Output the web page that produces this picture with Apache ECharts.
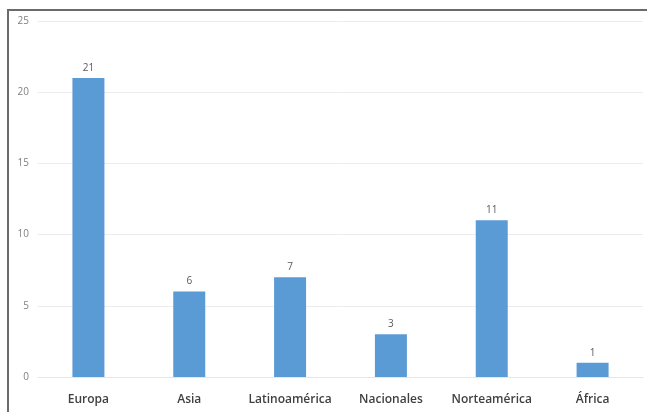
<!DOCTYPE html>
<html><head><meta charset="utf-8">
<script src="https://cdn.jsdelivr.net/npm/echarts@6/dist/echarts.min.js"></script>
<style>
html,body{margin:0;padding:0;background:#fff;width:647px;height:412px;overflow:hidden;}
#frame{position:absolute;left:7px;top:9px;width:700px;height:500px;border:2px solid #6b6b6b;box-sizing:border-box;}
#c{position:absolute;left:0;top:0;width:647px;height:412px;}
</style></head>
<body>
<div id="frame"></div>
<div id="c"></div>
<script>
const categories = ['Europa','Asia','Latinoamérica','Nacionales','Norteamérica','África'];
const values = [21,6,7,3,11,1];
const yTicks = {min:0,max:25,interval:5};
const chart = echarts.init(document.getElementById('c'));
chart.setOption({
  animation:false,
  grid:{left:38,right:4,top:21,bottom:35,containLabel:false},
  xAxis:{type:'category',data:categories,
    axisLine:{show:true,lineStyle:{color:'#e6e6e6'}},axisTick:{show:false},
    axisLabel:{interval:0,hideOverlap:false,color:'#404040',fontSize:12,fontWeight:600,fontFamily:'Open Sans, sans-serif',margin:17}},
  yAxis:{type:'value',min:yTicks.min,max:yTicks.max,interval:yTicks.interval,
    axisLine:{show:false},axisTick:{show:false},
    splitLine:{lineStyle:{color:'#ececec'}},
    axisLabel:{color:'#7f7f7f',fontSize:10,fontFamily:'Open Sans, sans-serif',margin:9}},
  series:[{type:'bar',data:values,barWidth:32,
    itemStyle:{color:'#5b9bd5'},
    label:{show:true,position:'top',color:'#595959',fontSize:10,distance:5,fontFamily:'Open Sans, sans-serif'}}]
});
</script>
</body></html>
